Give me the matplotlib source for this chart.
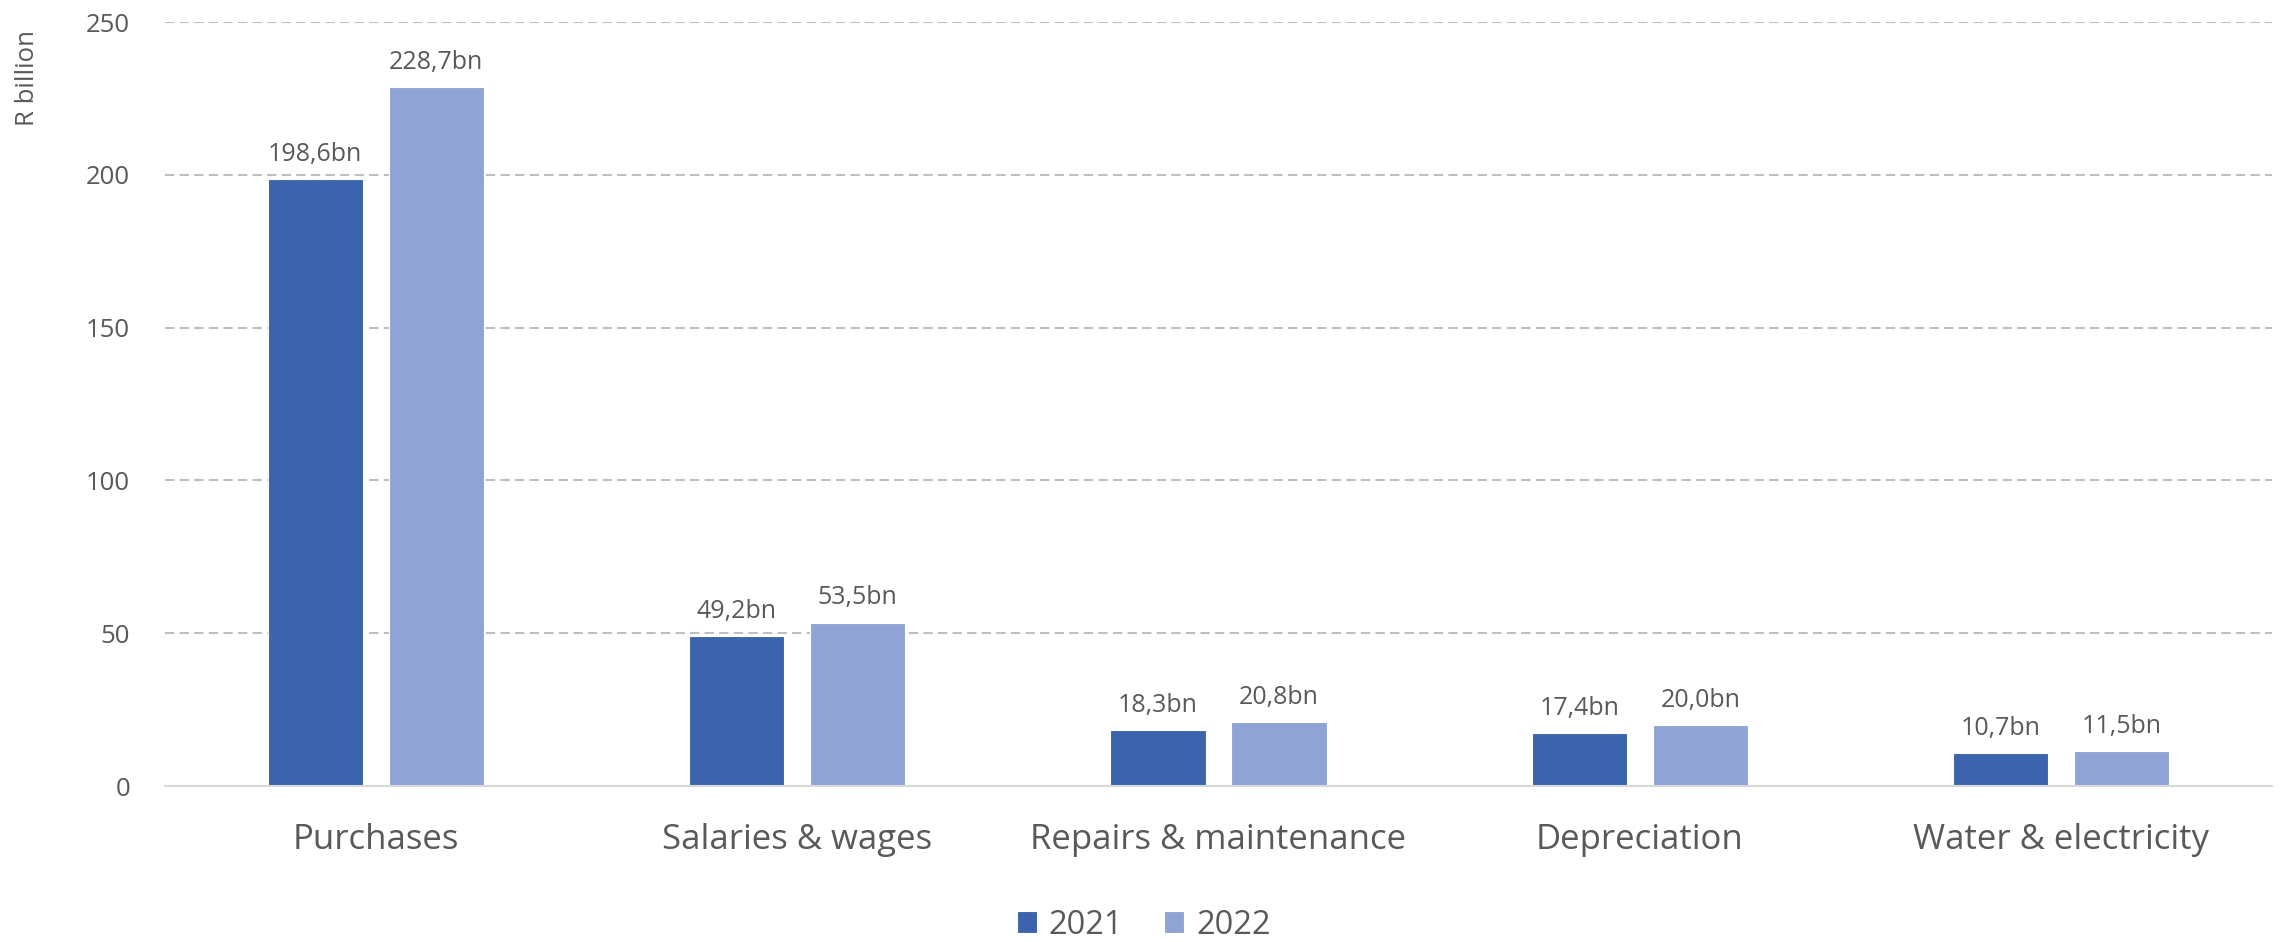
import matplotlib
matplotlib.use("Agg")
import matplotlib.pyplot as plt
import numpy as np

categories = ["Purchases", "Salaries & wages", "Repairs & maintenance", "Depreciation", "Water & electricity"]
series_names = ["2021", "2022"]
values_2021 = [198.6, 49.2, 18.3, 17.4, 10.7]
values_2022 = [228.7, 53.5, 20.8, 20.0, 11.5]
yticks = [0, 50, 100, 150, 200, 250]

colors = ["#3B64AD", "#8FA3D4"]
text_color = "#595959"

plt.rcParams['font.family'] = ['Open Sans', 'DejaVu Sans']

W, H = 2287, 942
fig = plt.figure(figsize=(W / 100, H / 100), dpi=100)
ax = fig.add_axes([165 / W, 1 - 786 / H, (2272 - 165) / W, (786 - 22) / H])

x = np.arange(len(categories))
bw = 0.226
off = 0.1436
for i, (vals, name) in enumerate(zip([values_2021, values_2022], series_names)):
    pos = x + (-off if i == 0 else off)
    bars = ax.bar(pos, vals, width=bw, color=colors[i], label=name,
                  edgecolor="white", linewidth=0.8, zorder=3)
    for b, v in zip(bars, vals):
        ax.annotate(f"{v:.1f}".replace(".", ",") + "bn",
                    (b.get_x() + b.get_width() / 2, b.get_height()),
                    xytext=(0, 13), textcoords="offset points",
                    ha="center", va="baseline", fontsize=18, color=text_color)

ax.set_xlim(-0.5, len(categories) - 0.5)
ax.set_ylim(0, 250)
ax.set_yticks(yticks)
ax.set_yticklabels([str(t) for t in yticks], fontsize=18.5, color=text_color)
ax.set_xticks(x)
ax.set_xticklabels(categories, fontsize=25, color=text_color)
ax.tick_params(axis="both", length=0)
ax.tick_params(axis="y", pad=25)
ax.tick_params(axis="x", pad=26.5)

ax.yaxis.grid(True, color="#BFBFBF", linewidth=1.5, linestyle=(0, (4.5, 2.5)), zorder=0)
ax.set_axisbelow(True)
for s in ["top", "right", "left"]:
    ax.spines[s].set_visible(False)
ax.spines["bottom"].set_color("#D9D9D9")
ax.spines["bottom"].set_linewidth(1.5)
ax.spines["bottom"].set_zorder(4)

fig.text(28 / W, 1 - 78 / H, "R billion", rotation=90, ha="center", va="center",
         fontsize=18.5, color=text_color)

leg = fig.legend(loc="center", bbox_to_anchor=(0.5, 1 - 925 / H), ncol=2, frameon=False,
                 fontsize=23.5, handlelength=0.63, handleheight=0.63, handletextpad=0.35,
                 columnspacing=1.25)
for t in leg.get_texts():
    t.set_color(text_color)

fig.savefig("out.png", dpi=100)
